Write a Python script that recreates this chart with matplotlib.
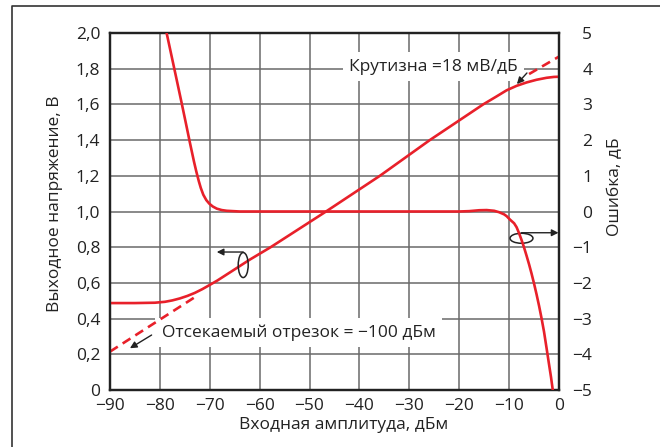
import numpy as np
import matplotlib
matplotlib.use('Agg')
import matplotlib.pyplot as plt
from matplotlib.patches import Ellipse
from matplotlib.lines import Line2D
from matplotlib.ticker import FuncFormatter

plt.rcParams['font.family'] = ['Open Sans', 'DejaVu Sans']
plt.rcParams['font.size'] = 12.5

RED = '#e8202a'
GRID = '#6a6a6a'
FS = 12.5

# Output voltage vs input level
vout_x = [-90, -85, -81, -79, -77.5, -76, -74.5, -73, -71.5, -70.3, -68.5, -66.5, -64, -62, -57.8,
          -46.7, -35.9, -25.9, -15.2, -12.5, -10.5, -8.5, -6.5, -4.5, -2.5, -1, 0]
vout_v = [0.487, 0.487, 0.489, 0.494, 0.502, 0.513, 0.527, 0.544, 0.565, 0.584, 0.613, 0.649,
          0.694, 0.730, 0.8, 1.0, 1.2, 1.4, 1.6, 1.645, 1.679, 1.704, 1.723, 1.738, 1.749, 1.754, 1.755]

# Ideal log line (slope 18 mV/dB), lower and upper pieces
ideal_lo_x = [-90, -73]
ideal_lo_v = [0.215, 0.52]
ideal_hi_x = [-6, 0]
ideal_hi_v = [1.77, 1.868]

# Log conformance error
err_x = [-78.65, -77.65, -76.65, -75.64, -74.8, -73.97, -73.17, -72.7, -72.2, -71.8, -71.3,
         -70.7, -70.1, -69.4, -68.6, -67.6, -66.6, -64, -60, -40, -20, -18, -16, -14.5, -13,
         -12, -11, -10.5, -9.8, -9, -8.5, -8, -7.5, -7, -6.5, -6, -5.5, -5, -4.5, -4, -3.5,
         -3, -2.5, -2, -1.6, -1.25]
err_db = [5.0, 4.35, 3.7, 3.04, 2.48, 1.92, 1.4, 1.12, 0.85, 0.66, 0.47,
          0.32, 0.22, 0.14, 0.08, 0.04, 0.02, 0.0, 0.0, 0.0, 0.0, 0.01, 0.035, 0.04, 0.02,
          -0.02, -0.08, -0.13, -0.23, -0.33, -0.44, -0.61, -0.80, -1.01, -1.24, -1.48, -1.74,
          -2.02, -2.32, -2.64, -2.99, -3.37, -3.82, -4.28, -4.64, -5.0]

x_ticks = list(range(-90, 1, 10))
v_ticks = [round(0.2 * i, 1) for i in range(11)]
e_ticks = list(range(-5, 6))

fig = plt.figure(figsize=(6.6, 4.47), dpi=100)
ax = fig.add_axes([110 / 660, 57 / 447, 449 / 660, 357 / 447])
ax2 = ax.twinx()

ax.set_xlim(-90, 0)
ax.set_ylim(0, 2.0)
ax2.set_ylim(-5, 5)

ax.set_xticks(x_ticks)
ax.set_yticks(v_ticks)
ax2.set_yticks(e_ticks)

ax.xaxis.set_major_formatter(FuncFormatter(lambda v, p: f'{v:.0f}'.replace('-', '\u2212')))
ax.yaxis.set_major_formatter(FuncFormatter(lambda v, p: '0' if abs(v) < 1e-9 else f'{v:.1f}'.replace('.', ',')))
ax2.yaxis.set_major_formatter(FuncFormatter(lambda v, p: f'{v:.0f}'.replace('-', '\u2212')))

ax.grid(True, color=GRID, lw=1.1)
ax.set_axisbelow(True)
ax.tick_params(axis='both', length=0, labelsize=FS, colors='#222222')
ax.tick_params(axis='y', pad=7)
ax.tick_params(axis='x', pad=6)
ax2.tick_params(axis='y', length=0, labelsize=FS, colors='#222222', pad=24)
for lbl in ax2.get_yticklabels():
    lbl.set_ha('right')

for a in (ax, ax2):
    for s in a.spines.values():
        s.set_linewidth(1.6)
        s.set_color('#222222')

ax.plot(vout_x, vout_v, color=RED, lw=1.9, zorder=4, solid_joinstyle='round')
ax.plot(ideal_lo_x, ideal_lo_v, color=RED, lw=1.9, ls=(0, (3.5, 2.2)), zorder=4)
ax.plot(ideal_hi_x, ideal_hi_v, color=RED, lw=1.9, ls=(0, (3.5, 2.2)), zorder=4)
ax2.plot(err_x, err_db, color=RED, lw=1.9, zorder=4, solid_joinstyle='round')

# Labels with white boxes over the grid
box = dict(facecolor='white', edgecolor='none', pad=4.5)
ax.text(-25.1, 1.811, 'Крутизна =18 мВ/дБ', ha='center', va='center',
        fontsize=FS, color='#222222', bbox=box, zorder=3)
ax.text(-52.2, 0.323, 'Отсекаемый отрезок = \u2212100 дБм', ha='center', va='center',
        fontsize=FS, color='#222222', bbox=box, zorder=3)

arrow = dict(arrowstyle='-|>', color='#222222', lw=1.0, mutation_scale=10, shrinkA=0, shrinkB=0)
ax.annotate('', xy=(-8.44, 1.714), xytext=(-6.43, 1.776), arrowprops=arrow, zorder=5)
ax.annotate('', xy=(-86.0, 0.234), xytext=(-81.66, 0.308), arrowprops=arrow, zorder=5)

# Axis pointers: ellipse around each curve with arrow to its scale
ax.add_patch(Ellipse((-63.3, 0.70), 2.0, 0.14, fill=False, ec='#222222', lw=1.1, zorder=5))
ax.annotate('', xy=(-68.6, 0.773), xytext=(-63.3, 0.773), arrowprops=arrow, zorder=5)
ax.add_patch(Ellipse((-7.52, 0.85), 4.6, 0.056, fill=False, ec='#222222', lw=1.1, zorder=5))
ax.annotate('', xy=(-0.1, 0.881), xytext=(-7.52, 0.881), arrowprops=arrow, zorder=5)

fig.text(55 / 660, 1 - 204 / 447, 'Выходное напряжение, В', rotation=90,
         ha='center', va='center', fontsize=FS, color='#222222')
fig.text(615 / 660, 1 - 187 / 447, 'Ошибка, дБ', rotation=90,
         ha='center', va='center', fontsize=FS, color='#222222')
fig.text(344 / 660, 1 - 425 / 447, 'Входная амплитуда, дБм',
         ha='center', va='center', fontsize=FS, color='#222222')

# Outer frame (left and top edges)
fig.add_artist(Line2D([12 / 660, 12 / 660, 1.0], [0.0, 1 - 6 / 447, 1 - 6 / 447],
                      transform=fig.transFigure, color='#333333', lw=1.2))

fig.savefig('out.png', dpi=100)
